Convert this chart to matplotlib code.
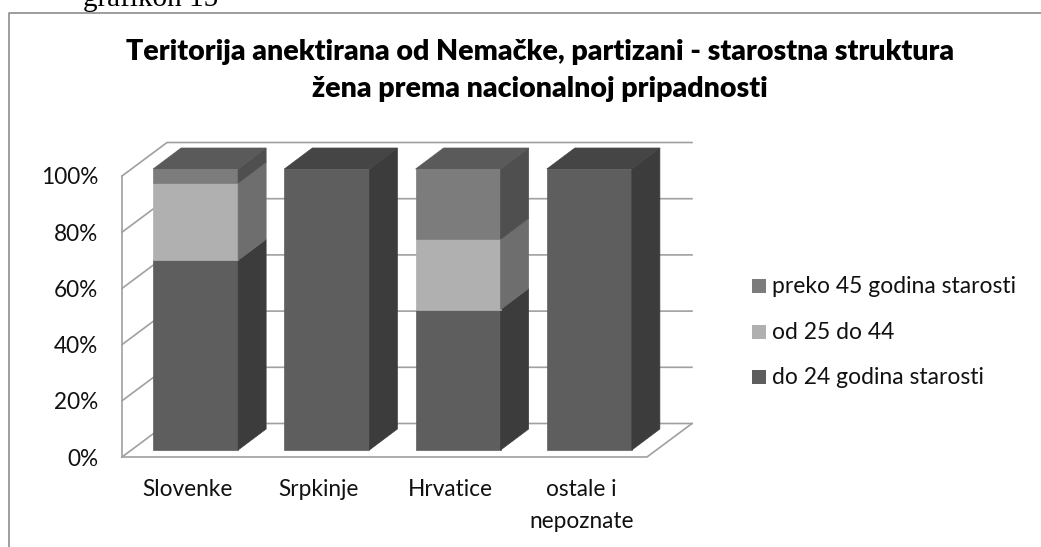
import matplotlib
matplotlib.use("Agg")
import matplotlib.pyplot as plt
from matplotlib.patches import Polygon, Rectangle
from matplotlib.lines import Line2D

categories = ["Slovenke", "Srpkinje", "Hrvatice", "ostale i\nnepoznate"]
do_24 = [67.5, 100, 50, 100]
od_25_44 = [27.5, 0, 25, 0]
preko_45 = [5, 0, 25, 0]
series_labels = ["do 24 godina starosti", "od 25 do 44", "preko 45 godina starosti"]
y_ticks = [0, 20, 40, 60, 80, 100]

W, H = 1041, 547
FONT = "Lato"
# colours: front, side, top of each series
COL = [("#5e5e5e", "#3c3c3c", "#454545"),
       ("#b0b0b0", "#6e6e6e", "#8a8a8a"),
       ("#7c7c7c", "#4f4f4f", "#5a5a5a")]
GRID = "#a0a0a0"

fig = plt.figure(figsize=(W / 100, H / 100), dpi=100, facecolor="white")
L, R, T, B = 122, 647, 176, 457
ax = fig.add_axes([L / W, 1 - B / H, (R - L) / W, (B - T) / H])
ax.set_xlim(-0.5, 3.5)
ax.set_ylim(0, 100)
ax.patch.set_visible(False)
for s in ax.spines.values():
    s.set_visible(False)

ux = (R - L) / 4      # px per category
uy = (B - T) / 100    # px per percent
def X(px): return px / ux
def Y(px): return px / uy

# frame depth
DX, DY = X(45), Y(33.5)
x0, x1 = -0.5, 3.5
lw = 1.2
for v in y_ticks:
    ax.add_line(Line2D([x0, x0 + DX, x1 + DX], [v, v + DY, v + DY], color=GRID, lw=lw,
                       clip_on=False, zorder=1))
ax.add_line(Line2D([x0, x0], [0, 100], color=GRID, lw=lw, clip_on=False, zorder=1))
ax.add_line(Line2D([x0, x1, x1 + DX], [0, 0, DY], color=GRID, lw=lw, clip_on=False, zorder=1))

# bars
off_x, off_y = X(8), Y(7)
half = X(42.5)
bx, by = X(28), Y(21)
for i in range(len(categories)):
    base = 0
    c = i + off_x
    vals = [do_24[i], od_25_44[i], preko_45[i]]
    last = max(k for k, v in enumerate(vals) if v > 0)
    for k, v in enumerate(vals):
        if v <= 0:
            continue
        f, s, t = COL[k]
        y0, y1 = base + off_y, base + v + off_y
        ax.add_patch(Rectangle((c - half, y0), 2 * half, v, fc=f, ec=f, lw=0.5, clip_on=False, zorder=3))
        ax.add_patch(Polygon([(c + half, y0), (c + half + bx, y0 + by), (c + half + bx, y1 + by), (c + half, y1)],
                             fc=s, ec=s, lw=0.5, clip_on=False, zorder=3))
        if k == last:
            ax.add_patch(Polygon([(c - half, y1), (c - half + bx, y1 + by), (c + half + bx, y1 + by), (c + half, y1)],
                                 fc=t, ec=t, lw=0.5, clip_on=False, zorder=3))
        base += v

ax.set_xticks(range(len(categories)), categories, fontsize=16.3, family=FONT, color="#111111", linespacing=1.65)
ax.set_yticks(y_ticks, [f"{v}%" for v in y_ticks], fontsize=16.3, family=FONT, color="#111111")
ax.tick_params(axis="both", length=0)
ax.tick_params(axis="x", pad=15.7)
ax.tick_params(axis="y", pad=17)
for lab in ax.get_xticklabels():
    lab.set_verticalalignment("top")

def fx(p): return p / W
def fy(p): return 1 - p / H

# title
fig.text(fx(540), fy(60), "Teritorija anektirana od Nemačke, partizani - starostna struktura",
         ha="center", va="baseline", fontsize=20.5, fontweight="heavy", family=FONT, color="black")
fig.text(fx(540), fy(97), "žena prema nacionalnoj pripadnosti",
         ha="center", va="baseline", fontsize=20.5, fontweight="heavy", family=FONT, color="black")

# legend
for yb, k in zip([293, 339, 384], [2, 1, 0]):
    fig.add_artist(Rectangle((fx(752), fy(yb)), 14 / W, 14 / H, fc=COL[k][0], ec="none",
                             transform=fig.transFigure))
    fig.text(fx(772), fy(yb), series_labels[k], ha="left", va="baseline", fontsize=16.5, family=FONT, color="#111111")

# outer border and caption
fig.add_artist(Line2D([fx(8.5), fx(8.5), fx(1041)], [fy(547), fy(12.5), fy(12.5)], color="#8c8c8c", lw=1.2,
                      transform=fig.transFigure))
fig.text(fx(83), fy(6), "grafikon 15", ha="left", va="baseline", fontsize=21, family="Liberation Serif", color="black")

fig.savefig("out.png", dpi=100)
